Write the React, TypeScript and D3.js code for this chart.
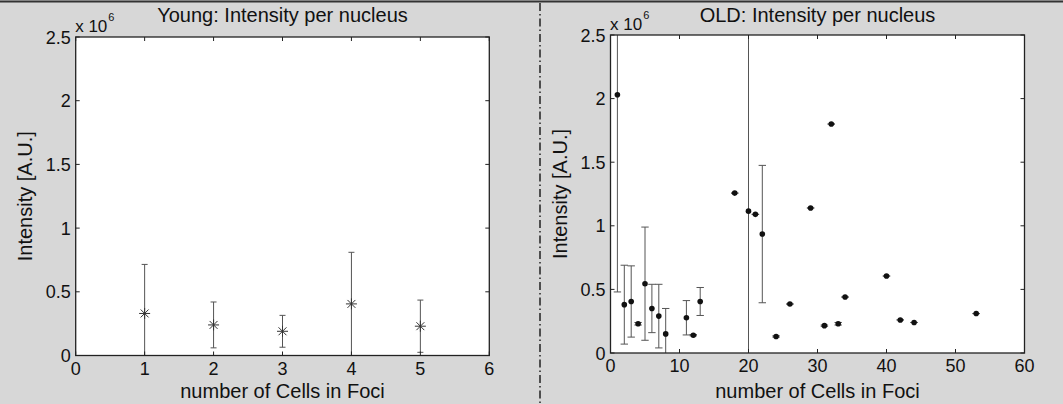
import React, { useRef, useEffect } from 'react';
import * as d3 from 'd3';

// Young cells: mean intensity per nucleus, with error (A.U.)
const youngCells = [1, 2, 3, 4, 5];
const youngMean = [330000, 240000, 190000, 405000, 230000];
const youngErr = [385000, 180000, 125000, 405000, 205000];

// Old cells
const oldCells = [1, 2, 3, 4, 5, 6, 7, 8, 11, 12, 13, 18, 20, 21, 22, 24, 26, 29, 31, 32, 33, 34, 40, 42, 44, 53];
const oldMean = [2030000, 380000, 405000, 230000, 545000, 350000, 290000, 150000, 277000, 140000, 405000, 1257000, 1115000,
    1090000, 935000, 130000, 385000, 1140000, 215000, 1800000, 230000, 440000, 605000, 260000, 240000, 310000];
const oldErr = [1550000, 310000, 280000, 10000, 445000, 190000, 250000, 200000, 135000, 5000, 110000, 0, 1600000,
    0, 540000, 5000, 0, 0, 5000, 0, 10000, 0, 0, 0, 0, 0];

const yTicks = [0, 500000, 1000000, 1500000, 2000000, 2500000];
const youngXTicks = [0, 1, 2, 3, 4, 5, 6];
const oldXTicks = [0, 10, 20, 30, 40, 50, 60];

const FONT = '"Liberation Sans", Arial, sans-serif';

interface Panel {
    id: string;
    title: string;
    cells: number[];
    mean: number[];
    err: number[];
    xMax: number;
    xTicks: number[];
    marker: 'star' | 'dot';
    left: number;
    right: number;
    top: number;
    bottom: number;
}

const panels: Panel[] = [
    { id: 'young', title: 'Young: Intensity per nucleus', cells: youngCells, mean: youngMean, err: youngErr,
      xMax: 6, xTicks: youngXTicks, marker: 'star', left: 75.7, right: 489.3, top: 37, bottom: 355.5 },
    { id: 'old', title: 'OLD: Intensity per nucleus', cells: oldCells, mean: oldMean, err: oldErr,
      xMax: 60, xTicks: oldXTicks, marker: 'dot', left: 610.5, right: 1024.5, top: 35, bottom: 353 },
];

function drawPanel(svg: d3.Selection<SVGSVGElement, unknown, null, undefined>, p: Panel) {
    const x = d3.scaleLinear().domain([0, p.xMax]).range([p.left, p.right]);
    const y = d3.scaleLinear().domain([0, 2500000]).range([p.bottom, p.top]);
    const g = svg.append('g');

    g.append('rect')
        .attr('x', p.left).attr('y', p.top)
        .attr('width', p.right - p.left).attr('height', p.bottom - p.top)
        .attr('fill', '#ffffff');

    svg.append('clipPath').attr('id', `clip-${p.id}`)
        .append('rect')
        .attr('x', p.left).attr('y', p.top)
        .attr('width', p.right - p.left).attr('height', p.bottom - p.top);

    const data = p.cells.map((c, i) => ({ c, m: p.mean[i], e: p.err[i] }));
    const plot = g.append('g').attr('clip-path', `url(#clip-${p.id})`);
    const cap = p.marker === 'star' ? 3 : 3.7;

    // error bars
    const eb = plot.selectAll('.eb').data(data).enter().append('g')
        .attr('stroke', '#555').attr('stroke-width', 1).attr('fill', 'none');
    eb.append('line')
        .attr('x1', d => x(d.c)).attr('x2', d => x(d.c))
        .attr('y1', d => y(d.m - d.e)).attr('y2', d => y(d.m + d.e));
    eb.append('line')
        .attr('x1', d => x(d.c) - cap).attr('x2', d => x(d.c) + cap)
        .attr('y1', d => y(d.m - d.e)).attr('y2', d => y(d.m - d.e));
    eb.append('line')
        .attr('x1', d => x(d.c) - cap).attr('x2', d => x(d.c) + cap)
        .attr('y1', d => y(d.m + d.e)).attr('y2', d => y(d.m + d.e));

    // markers
    if (p.marker === 'dot') {
        plot.selectAll('.pt').data(data).enter().append('circle')
            .attr('cx', d => x(d.c)).attr('cy', d => y(d.m))
            .attr('r', 2.8).attr('fill', '#111');
    } else {
        const s = 5.5;
        const star = plot.selectAll('.pt').data(data).enter().append('g')
            .attr('transform', d => `translate(${x(d.c)},${y(d.m)})`)
            .attr('stroke', '#333').attr('stroke-width', 1);
        star.append('line').attr('x1', -s).attr('x2', s).attr('y1', 0).attr('y2', 0);
        star.append('line').attr('x1', 0).attr('x2', 0).attr('y1', -s).attr('y2', s);
        star.append('line').attr('x1', -s * 0.72).attr('x2', s * 0.72).attr('y1', -s * 0.72).attr('y2', s * 0.72);
        star.append('line').attr('x1', -s * 0.72).attr('x2', s * 0.72).attr('y1', s * 0.72).attr('y2', -s * 0.72);
    }

    // frame and inward ticks
    g.append('rect')
        .attr('x', p.left).attr('y', p.top)
        .attr('width', p.right - p.left).attr('height', p.bottom - p.top)
        .attr('fill', 'none').attr('stroke', '#222').attr('stroke-width', 1.3);

    const tl = 4;
    const ticks = g.append('g').attr('stroke', '#222').attr('stroke-width', 1);
    p.xTicks.forEach(t => {
        ticks.append('line').attr('x1', x(t)).attr('x2', x(t)).attr('y1', p.bottom).attr('y2', p.bottom - tl);
        ticks.append('line').attr('x1', x(t)).attr('x2', x(t)).attr('y1', p.top).attr('y2', p.top + tl);
    });
    yTicks.forEach(t => {
        ticks.append('line').attr('x1', p.left).attr('x2', p.left + tl).attr('y1', y(t)).attr('y2', y(t));
        ticks.append('line').attr('x1', p.right).attr('x2', p.right - tl).attr('y1', y(t)).attr('y2', y(t));
    });

    const txt = g.append('g').attr('fill', '#111').style('font-family', FONT);

    txt.selectAll('.xt').data(p.xTicks).enter().append('text')
        .attr('x', d => x(d)).attr('y', p.bottom + 19)
        .attr('text-anchor', 'middle').style('font-size', '18px')
        .text(d => d);

    txt.selectAll('.yt').data(yTicks).enter().append('text')
        .attr('x', p.left - 5).attr('y', d => y(d) + 6.5)
        .attr('text-anchor', 'end').style('font-size', '18px')
        .text(d => d3.format('~g')(d / 1e6));

    const exp = txt.append('text')
        .attr('x', p.left - 0.5).attr('y', p.top - 5.5)
        .style('font-size', '17px');
    exp.append('tspan').text('x 10');
    exp.append('tspan').attr('dx', 1).attr('dy', -11).style('font-size', '11px').text('6');

    txt.append('text')
        .attr('x', (p.left + p.right) / 2).attr('y', 21.5)
        .attr('text-anchor', 'middle').style('font-size', '20px')
        .text(p.title);

    txt.append('text')
        .attr('x', (p.left + p.right) / 2).attr('y', 397.5)
        .attr('text-anchor', 'middle').style('font-size', '20px')
        .text('number of Cells in Foci');

    txt.append('text')
        .attr('transform', `translate(${p.left - 44},${(p.top + p.bottom) / 2}) rotate(-90)`)
        .attr('text-anchor', 'middle').style('font-size', '20px')
        .text('Intensity [A.U.]');
}

const App: React.FC = () => {
    const svgRef = useRef<SVGSVGElement | null>(null);

    useEffect(() => {
        if (!svgRef.current) return;
        const svg = d3.select(svgRef.current);
        svg.selectAll('*').remove();

        const width = 1063;
        const height = 404;

        svg.append('rect').attr('width', width).attr('height', height).attr('fill', '#d7d7d7');
        // top border of the scanned figure
        svg.append('line').attr('x1', 0).attr('x2', width).attr('y1', 1.5).attr('y2', 1.5)
            .attr('stroke', '#333').attr('stroke-width', 2);
        // dash-dot divider between the two panels
        svg.append('line').attr('x1', 540).attr('x2', 540).attr('y1', 3).attr('y2', height)
            .attr('stroke', '#222').attr('stroke-width', 1.5)
            .attr('stroke-dasharray', '8 3 1.5 3');

        panels.forEach(p => drawPanel(svg, p));
    }, []);

    return <svg ref={svgRef} width="1063" height="404" style={{ position: 'absolute', left: 0, top: 0 }}></svg>;
};

export default App;
